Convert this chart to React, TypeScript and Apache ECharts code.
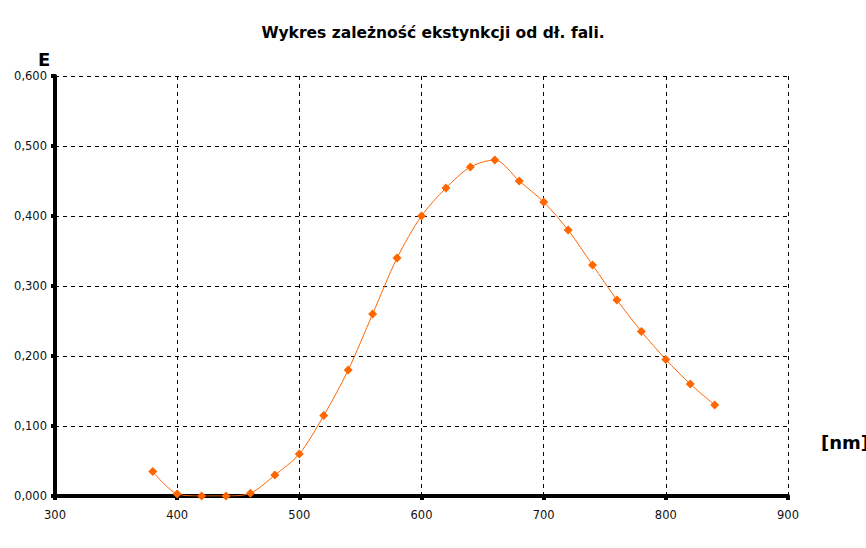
import React, { useEffect, useRef } from "react";
import * as echarts from "echarts";

const wavelengths = [380, 400, 420, 440, 460, 480, 500, 520, 540, 560, 580, 600, 620, 640, 660, 680, 700, 720, 740, 760, 780, 800, 820, 840];
const extinction = [0.035, 0.003, 0.0, 0.0, 0.004, 0.03, 0.06, 0.115, 0.18, 0.26, 0.34, 0.4, 0.44, 0.47, 0.48, 0.45, 0.42, 0.38, 0.33, 0.28, 0.235, 0.195, 0.16, 0.13];
const titleText = "Wykres zależność ekstynkcji od dł. fali.";
const yName = "E";
const xName = "[nm]";

export default function App() {
  const ref = useRef<HTMLDivElement>(null);
  useEffect(() => {
    if (!ref.current) return;
    const chart = echarts.init(ref.current, null, { renderer: "svg" });
    const font = "DejaVu Sans";
    chart.setOption({
      animation: false,
      backgroundColor: "#ffffff",
      title: {
        text: titleText,
        left: "center",
        top: 20,
        textStyle: { fontFamily: font, fontSize: 15.5, fontWeight: "bold", color: "#000" },
      },
      grid: { left: 55, right: 78, top: 76, bottom: 52, containLabel: false },
      xAxis: {
        type: "value",
        min: 300,
        max: 900,
        interval: 100,
        axisLine: { show: true, lineStyle: { color: "#000", width: 4 } },
        axisTick: { show: true, length: 4, lineStyle: { color: "#000", width: 4 } },
        axisLabel: { fontFamily: font, fontSize: 11.5, color: "#111", margin: 13 },
        splitLine: { show: true, lineStyle: { color: "#000", type: [4, 4], width: 1 } },
      },
      yAxis: {
        type: "value",
        min: 0,
        max: 0.6,
        interval: 0.1,
        axisLine: { show: true, lineStyle: { color: "#000", width: 4 } },
        axisTick: { show: true, length: 4, lineStyle: { color: "#000", width: 4 } },
        axisLabel: {
          fontFamily: font,
          fontSize: 11.5,
          color: "#111",
          margin: 8,
          formatter: (v: number) => v.toFixed(3).replace(".", ","),
        },
        splitLine: { show: true, lineStyle: { color: "#000", type: [4, 4], width: 1 } },
      },
      graphic: [
        { type: "text", left: 38, top: 50, style: { text: yName, fontFamily: font, fontSize: 18, fontWeight: "bold", fill: "#000" } },
        { type: "text", left: 821, top: 433, style: { text: xName, fontFamily: font, fontSize: 18, fontWeight: "bold", fill: "#000" } },
      ],
      series: [
        {
          type: "line",
          data: wavelengths.map((w, i) => [w, extinction[i]]),
          smooth: 0.3,
          symbol: "diamond",
          symbolSize: 9,
          itemStyle: { color: "#ff6600" },
          lineStyle: { color: "#ff6600", width: 1 },
          z: 5,
        },
      ],
    });
    return () => chart.dispose();
  }, []);
  return <div ref={ref} style={{ width: 866, height: 548, position: "absolute", left: 0, top: 0 }} />;
}
